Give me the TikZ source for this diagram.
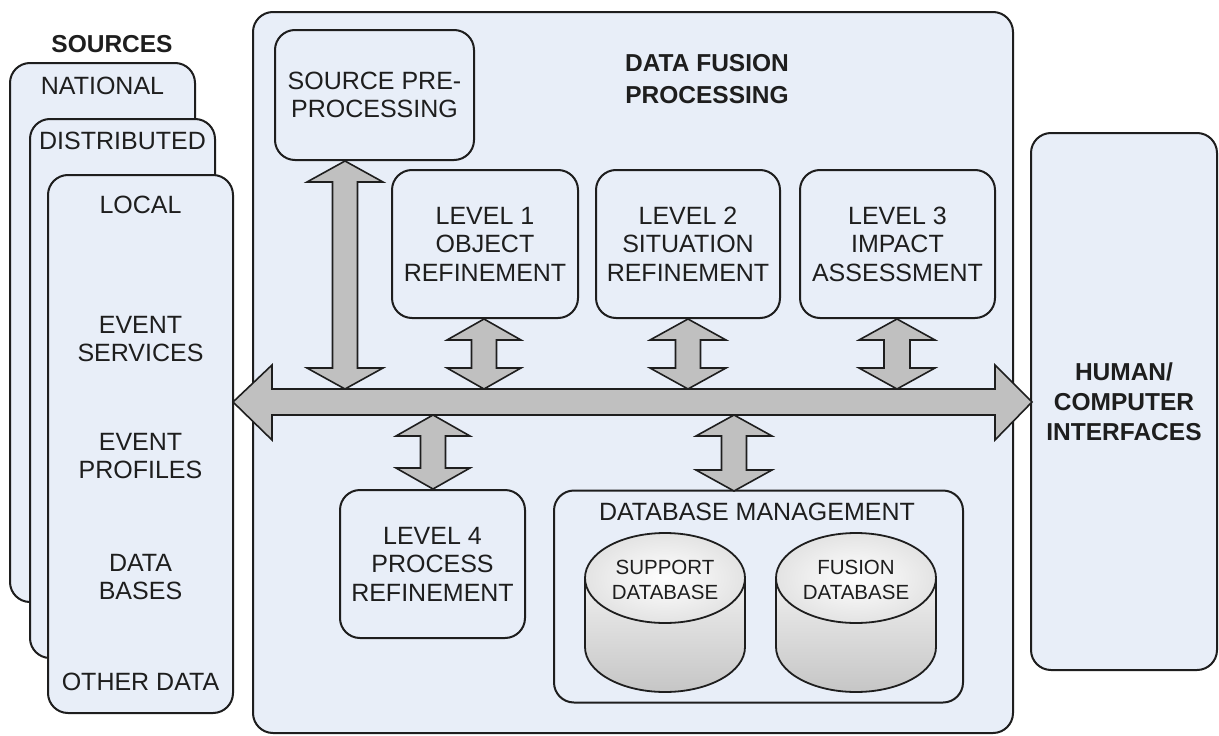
\documentclass[tikz,border=0pt]{standalone}
\usepackage{fontspec}
\setmainfont{Liberation Sans}
\definecolor{boxfill}{RGB}{232,238,248}
\definecolor{arrfill}{RGB}{192,192,192}
\definecolor{ink}{RGB}{30,30,30}
\newcommand\vdarr[5]{% x, ytop, ybot, half head, half shaft
  \draw[blockarr] (#1,#2) -- (#1+#4,#2+21) -- (#1+#5,#2+21) -- (#1+#5,#3-21)
    -- (#1+#4,#3-21) -- (#1,#3) -- (#1-#4,#3-21) -- (#1-#5,#3-21)
    -- (#1-#5,#2+21) -- (#1-#4,#2+21) -- cycle;}
\newcommand\dbcyl[4]{% name, cx, line1, line2
  \path[draw=ink, line width=1.8pt, top color=gray!12, bottom color=gray!45]
    (#2-80,578) -- (#2-80,647) arc[start angle=180, end angle=0, x radius=80, y radius=45]
    -- (#2+80,578) -- cycle;
  \path[draw=ink, line width=1.8pt, inner color=white, outer color=gray!22]
    (#2,578) ellipse [x radius=80, y radius=45];
  \node[txt, font=\fontsize{20.5}{25}\selectfont] (#1) at (#2,580) {#3\\#4};}
\tikzset{
  rbox/.style={draw=ink, line width=2pt, fill=boxfill, rounded corners=20pt,
    inner sep=0pt, align=center, text=ink},
  txt/.style={text=ink, align=center, inner sep=0pt},
  blockarr/.style={draw=ink, line width=1.6pt, fill=arrfill, line join=miter},
}
\begin{document}
\begin{tikzpicture}[x=1pt, y=-1pt, font=\fontsize{25}{28.5}\selectfont]
\useasboundingbox[fill=white] (0,0) rectangle (1219,736);

% sources
\node[txt, font=\fontsize{24.5}{28}\selectfont\bfseries] (srct) at (112,44) {SOURCES};
\node[rbox, minimum width=185pt, minimum height=539pt] (nat) at (102.5,332.5) {};
\node[txt] (natt) at (102.5,86) {NATIONAL};
\node[rbox, minimum width=185pt, minimum height=539pt] (dist) at (122.5,388.5) {};
\node[txt] (distt) at (122.5,141) {DISTRIBUTED};
\node[rbox, minimum width=185pt, minimum height=538pt] (loc) at (140.5,444) {};
\node[txt] (loct) at (140.5,205) {LOCAL};
\node[txt] (evs) at (140.5,339) {EVENT\\SERVICES};
\node[txt] (evp) at (140.5,456) {EVENT\\PROFILES};
\node[txt] (dbs) at (140.5,577) {DATA\\BASES};
\node[txt] (oth) at (140.5,682) {OTHER DATA};

% data fusion processing
\node[rbox, minimum width=760pt, minimum height=721pt] (dfp) at (633,372.5) {};
\node[txt, font=\fontsize{24.5}{32}\selectfont\bfseries] (dfpt) at (707,79) {DATA FUSION\\PROCESSING};
\node[rbox, minimum width=199pt, minimum height=130pt] (spp) at (374.5,95) {SOURCE PRE-\\PROCESSING};
\node[rbox, minimum width=186pt, minimum height=148pt] (l1) at (485,244) {LEVEL 1\\OBJECT\\REFINEMENT};
\node[rbox, minimum width=184pt, minimum height=148pt] (l2) at (688,244) {LEVEL 2\\SITUATION\\REFINEMENT};
\node[rbox, minimum width=195pt, minimum height=148pt] (l3) at (897.5,244) {LEVEL 3\\IMPACT\\ASSESSMENT};
\node[rbox, minimum width=185pt, minimum height=148pt] (l4) at (432.5,564) {LEVEL 4\\PROCESS\\REFINEMENT};
\node[rbox, minimum width=409pt, minimum height=212pt] (dbm) at (758.5,596.5) {};
\node[txt] (dbmt) at (757,512) {DATABASE MANAGEMENT};
\dbcyl{sdb}{665}{SUPPORT}{DATABASE}
\dbcyl{fdb}{856}{FUSION}{DATABASE}

% HCI
\node[rbox, minimum width=186pt, minimum height=537pt, font=\fontsize{24.5}{30}\selectfont\bfseries] (hci) at (1124,401.5) {HUMAN/\\COMPUTER\\INTERFACES};

% bus arrow
\draw[blockarr] (233,402) -- (272,365) -- (272,389) -- (995,389) -- (995,365)
  -- (1032,402) -- (995,440) -- (995,415) -- (272,415) -- (272,440) -- cycle;

% vertical arrows
\vdarr{345}{161}{389}{38}{12.5}
\vdarr{484}{319}{389}{37}{12.5}
\vdarr{688}{319}{389}{38}{12.5}
\vdarr{897}{319}{389}{38}{13}
\vdarr{433}{415}{489}{37}{12.5}
\vdarr{734}{415}{491}{38}{12.5}
\end{tikzpicture}
\end{document}
